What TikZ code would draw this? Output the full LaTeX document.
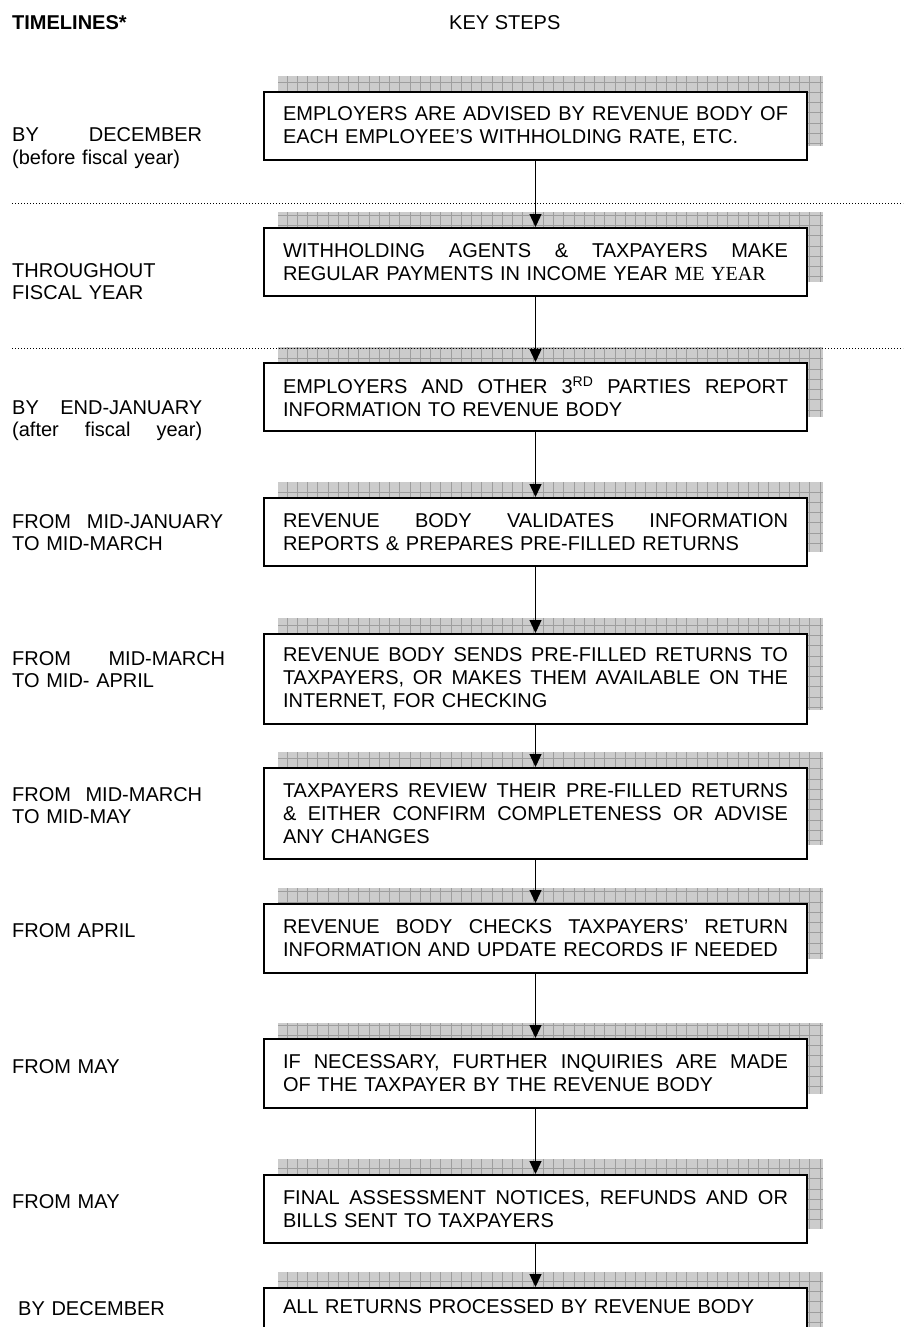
\documentclass[tikz,border=0pt]{standalone}
\usepackage{fontspec}
\setmainfont{Liberation Sans}
\newfontfamily\timesfont{Liberation Serif}
\usetikzlibrary{arrows.meta,backgrounds}

% a line stretched to the full width (justified): spaces take up the slack
\newcommand\jline[2][\linewidth]{\leavevmode\hbox to #1{\spaceskip=0.278em plus 1fil\relax #2}}

\tikzset{
  x=1pt, y=1pt,
  stepbox/.style={draw=black, line width=1.8pt, fill=white, anchor=north,
    text width=505pt, inner xsep=19pt, inner ysep=0pt, align=left,
    font=\fontsize{20}{23}\selectfont},
  timelabel/.style={anchor=base west, inner sep=0pt, text width=240pt,
    align=left, font=\fontsize{20}{22.5}\selectfont},
  heading/.style={anchor=base west, inner sep=0pt, font=\fontsize{20}{24}\selectfont},
  flow/.style={line width=1.3pt, -{Triangle[length=13pt,width=12pt]}},
  separator/.style={line width=0.8pt, dash pattern=on 1pt off 2pt},
  shadowband/.style={fill=black!20,
    path picture={\draw[black!38, line width=0.6pt, step=10.25pt]
      (path picture bounding box.south west) grid (path picture bounding box.north east);}}
}

\begin{document}
\begin{tikzpicture}
\useasboundingbox (0,-1327) rectangle (903,0);
\clip (0,-1327) rectangle (903,0);

% column headings
\node[heading, font=\fontsize{20}{24}\selectfont\bfseries] (hTime) at (12,-30) {TIMELINES*};
\node[heading] (hSteps) at (449,-30) {KEY STEPS};

% period separators
\draw[separator] (12,-203) -- (903,-203);
\draw[separator] (12,-348) -- (903,-348);

% timeline labels
\node[timelabel] (t1) at (12,-142) {\jline[190pt]{BY DECEMBER}\\(before fiscal year)};
\node[timelabel] (t2) at (12,-277) {THROUGHOUT\\FISCAL YEAR};
\node[timelabel] (t3) at (12,-414) {\jline[190pt]{BY END-JANUARY}\\\jline[190pt]{(after fiscal year)}};
\node[timelabel] (t4) at (12,-528) {\jline[211pt]{FROM MID-JANUARY}\\TO MID-MARCH};
\node[timelabel] (t5) at (12,-665) {\jline[213pt]{FROM MID-MARCH}\\TO MID- APRIL};
\node[timelabel] (t6) at (12,-801) {\jline[190pt]{FROM MID-MARCH}\\TO MID-MAY};
\node[timelabel] (t7) at (12,-937) {FROM APRIL};
\node[timelabel] (t8) at (12,-1073) {FROM MAY};
\node[timelabel] (t9) at (12,-1208) {FROM MAY};
\node[timelabel] (t10) at (18,-1315) {BY DECEMBER};

% key steps
\node[stepbox, minimum height=68pt] (b1) at (535.5,-91)
  {\jline{EMPLOYERS ARE ADVISED BY REVENUE BODY OF}\\EACH EMPLOYEE’S WITHHOLDING RATE, ETC.};
\node[stepbox, minimum height=68pt] (b2) at (535.5,-227)
  {\jline{WITHHOLDING AGENTS \& TAXPAYERS MAKE}\\REGULAR PAYMENTS IN INCOME YEAR {\timesfont ME YEAR}};
\node[stepbox, minimum height=68pt] (b3) at (535.5,-362)
  {\jline{EMPLOYERS AND OTHER 3\textsuperscript{RD} PARTIES REPORT}\\INFORMATION TO REVENUE BODY};
\node[stepbox, minimum height=68pt] (b4) at (535.5,-497)
  {\jline{REVENUE BODY VALIDATES INFORMATION}\\REPORTS \& PREPARES PRE-FILLED RETURNS};
\node[stepbox, minimum height=90pt] (b5) at (535.5,-633)
  {\jline{REVENUE BODY SENDS PRE-FILLED RETURNS TO}\\\jline{TAXPAYERS, OR MAKES THEM AVAILABLE ON THE}\\INTERNET, FOR CHECKING};
\node[stepbox, minimum height=91pt] (b6) at (535.5,-767)
  {\jline{TAXPAYERS REVIEW THEIR PRE-FILLED RETURNS}\\\jline{\& EITHER CONFIRM COMPLETENESS OR ADVISE}\\ANY CHANGES};
\node[stepbox, minimum height=69pt] (b7) at (535.5,-903)
  {\jline{REVENUE BODY CHECKS TAXPAYERS’ RETURN}\\INFORMATION AND UPDATE RECORDS IF NEEDED};
\node[stepbox, minimum height=69pt] (b8) at (535.5,-1038)
  {\jline{IF NECESSARY, FURTHER INQUIRIES ARE MADE}\\OF THE TAXPAYER BY THE REVENUE BODY};
\node[stepbox, minimum height=68pt] (b9) at (535.5,-1174)
  {\jline{FINAL ASSESSMENT NOTICES, REFUNDS AND OR}\\BILLS SENT TO TAXPAYERS};
\node[stepbox, minimum height=68pt] (b10) at (535.5,-1287)
  {ALL RETURNS PROCESSED BY REVENUE BODY\\\strut};

% shaded grid bands behind each box
\begin{scope}[on background layer]
  \fill[white] (0,-1327) rectangle (903,0);
  \foreach \b in {b1,b2,b3,b4,b5,b6,b7,b8,b9,b10}
    \path[shadowband] ([shift={(15,15)}]\b.south west) rectangle ([shift={(15,15)}]\b.north east);
\end{scope}

% flow between the steps
\foreach \a/\b in {b1/b2,b2/b3,b3/b4,b4/b5,b5/b6,b6/b7,b7/b8,b8/b9,b9/b10}
  \draw[flow] (\a.south) -- (\b.north);
\end{tikzpicture}
\end{document}
